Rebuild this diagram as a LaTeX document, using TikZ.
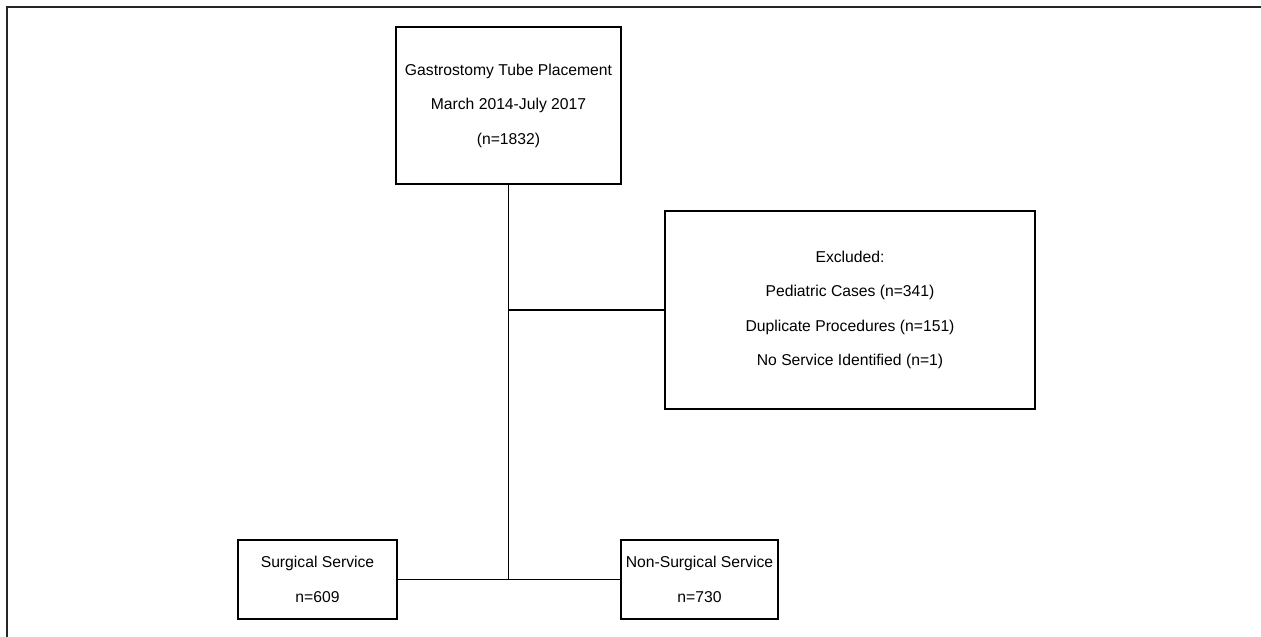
\documentclass[tikz,border=0pt]{standalone}
\usepackage{fontspec}
\setmainfont{Liberation Sans}
\usetikzlibrary{positioning}
\tikzset{
    box/.style={draw, line width=1.6pt, inner sep=0pt, align=center,
        font=\fontsize{15.7}{34.5}\selectfont},
    link/.style={line width=1.6pt}
}
\begin{document}
\begin{tikzpicture}[x=1pt, y=-1pt]
                        \useasboundingbox (0, 0) rectangle (1261, 637);
                        \draw[line width=2pt, black!85] (7, 637) -- (7, 7) -- (1261, 7);
                        \node[box, minimum width=225, minimum height=157] (placement) at (508.5, 105.5)
                            {Gastrostomy Tube Placement\\March 2014-July 2017\\(n=1832)};
                        \node[box, minimum width=370, minimum height=198] (excluded) at (850, 310)
                            {Excluded:\\Pediatric Cases (n=341)\\Duplicate Procedures (n=151)\\No Service Identified (n=1)};
                        \node[box, minimum width=159, minimum height=79] (surgical) at (317.5, 579.5)
                            {Surgical Service\\n=609};
                        \node[box, minimum width=157, minimum height=79] (nonsurgical) at (699.5, 579.5)
                            {Non-Surgical Service\\n=730};
                        \coordinate (split) at (placement.south |- surgical.east);
                        \coordinate (branch) at (placement.south |- excluded.west);
                        \draw[link]
                        (placement.south) -- (split)
                        (branch) -- (excluded.west)
                        (surgical.east) -- (nonsurgical.west);
                    \end{tikzpicture}
\end{document}
